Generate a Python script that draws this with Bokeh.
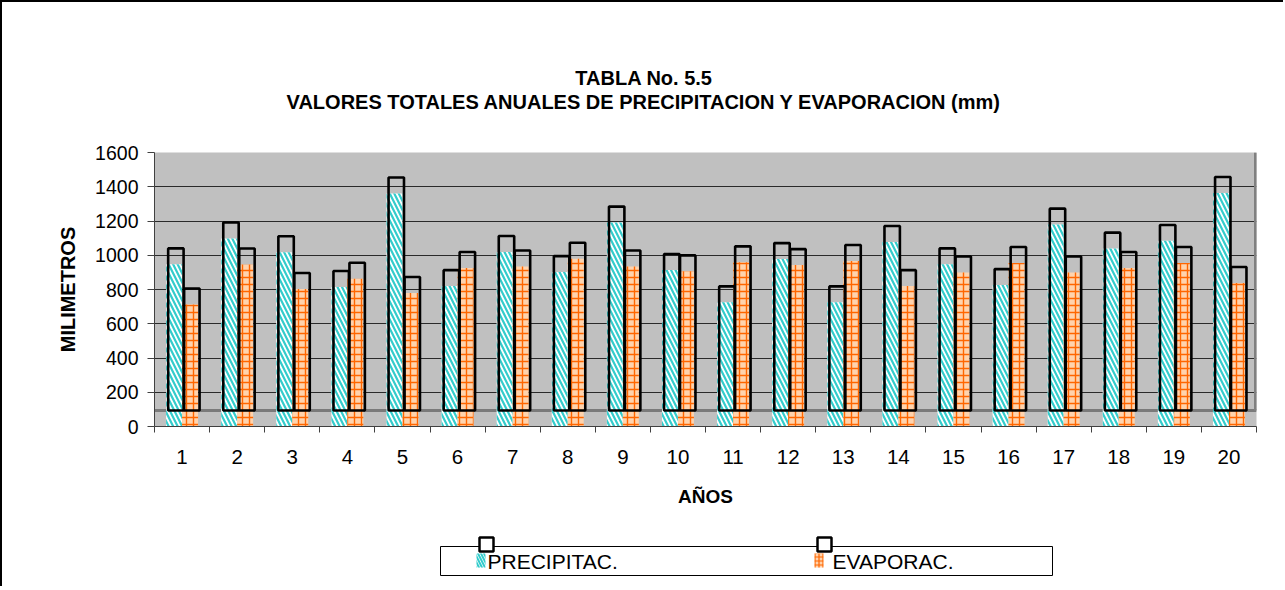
import numpy as np
from bokeh.plotting import figure
from bokeh.models import FixedTicker, Range1d, Span
from bokeh.layouts import column
from bokeh.embed import file_html
from bokeh.resources import INLINE
from bokeh.core.properties import value

# ---------------- data ----------------
years = ["1", "2", "3", "4", "5", "6", "7", "8", "9", "10",
         "11", "12", "13", "14", "15", "16", "17", "18", "19", "20"]
precipitacion = [947, 1098, 1018, 815, 1361, 820, 1019, 902, 1191, 914,
                 725, 978, 725, 1078, 947, 826, 1179, 1039, 1084, 1364]
evaporacion = [713, 946, 803, 863, 780, 926, 935, 980, 935, 906,
               959, 943, 967, 820, 900, 955, 900, 926, 955, 838]
y_ticks = [0, 200, 400, 600, 800, 1000, 1200, 1400, 1600]
series_names = ["PRECIPITAC.", "EVAPORAC."]
title_lines = ["TABLA No. 5.5",
               "VALORES TOTALES ANUALES DE PRECIPITACION Y EVAPORACION (mm)"]
x_title = "AÑOS"
y_title = "MILIMETROS"

# ---------------- style ----------------
FONT = "Liberation Sans"
DEPTH = 93          # pseudo-3D depth offset of the column outlines (mm)
BAR_W = 0.29
OFF = 0.145
DX = 0.033
CYAN = "#33CCCC"
ORANGE = "#FF6600"
PEACH = "#FFD3AD"
AXIS_C = "#404040"

W = 1283
FL, FR = 154, 1256          # frame left / right on the page (px)
TOP_H, MAIN_H, LEG_H = 140, 386, 60

x = np.arange(1, len(years) + 1)
bounds = np.arange(0.5, len(years) + 1, 1.0)
prec = np.array(precipitacion, dtype=float)
evap = np.array(evaporacion, dtype=float)

# ---------------- title strip ----------------
t = figure(width=W, height=TOP_H, x_range=Range1d(FL, FR), y_range=Range1d(0, TOP_H),
           output_backend="svg", toolbar_location=None,
           x_axis_location=None, y_axis_location=None,
           min_border=0, min_border_top=0, min_border_bottom=0)
t.grid.visible = False
t.outline_line_color = None
t.background_fill_color = None
t.border_fill_color = None
t.text(x=[643.5, 643.5], y=[TOP_H - 77, TOP_H - 101], text=title_lines,
       text_font=value(FONT), text_font_size="20px", text_font_style="bold",
       text_color="black", text_align="center", text_baseline="middle")

# ---------------- main chart ----------------
p = figure(width=W, height=MAIN_H,
           x_range=Range1d(bounds[0], bounds[-1]),
           y_range=Range1d(y_ticks[0], y_ticks[-1]),
           output_backend="svg", toolbar_location=None,
           min_border_left=FL, min_border_right=W - FR,
           min_border_top=12, min_border_bottom=MAIN_H - 12 - 274)
p.background_fill_color = "#C0C0C0"
p.border_fill_color = None
p.outline_line_color = None

p.xgrid.visible = False
p.ygrid.ticker = FixedTicker(ticks=y_ticks)
p.ygrid.grid_line_color = "#2a2a2a"
p.ygrid.grid_line_width = 1

p.yaxis.ticker = FixedTicker(ticks=y_ticks)
p.yaxis.major_tick_out = 7
p.yaxis.major_tick_in = 0
p.yaxis.minor_tick_line_color = None
p.yaxis.major_tick_line_color = AXIS_C
p.yaxis.axis_line_color = AXIS_C
p.yaxis.major_label_text_font = FONT
p.yaxis.major_label_text_font_size = "19.5px"
p.yaxis.major_label_text_color = "black"
p.yaxis.major_label_standoff = 9
p.yaxis.axis_label = y_title
p.yaxis.axis_label_text_font = FONT
p.yaxis.axis_label_text_font_size = "20px"
p.yaxis.axis_label_text_font_style = "bold"
p.yaxis.axis_label_text_color = "black"
p.yaxis.axis_label_standoff = 13

p.xaxis.ticker = FixedTicker(ticks=list(x), minor_ticks=list(bounds))
p.xaxis.major_label_overrides = {int(i): lab for i, lab in zip(x, years)}
p.xaxis.major_tick_out = 6
p.xaxis.major_tick_in = 0
p.xaxis.major_tick_line_color = None
p.xaxis.minor_tick_out = 6
p.xaxis.minor_tick_in = 0
p.xaxis.minor_tick_line_color = AXIS_C
p.xaxis.axis_line_color = AXIS_C
p.xaxis.major_label_text_font = FONT
p.xaxis.major_label_text_font_size = "20.5px"
p.xaxis.major_label_text_color = "black"
p.xaxis.major_label_standoff = 17
p.xaxis.axis_label = x_title
p.xaxis.axis_label_text_font = FONT
p.xaxis.axis_label_text_font_size = "19px"
p.xaxis.axis_label_text_font_style = "bold"
p.xaxis.axis_label_text_color = "black"
p.xaxis.axis_label_standoff = 19

p.add_layout(Span(location=DEPTH, dimension="width", line_color="#7a7a7a",
                  line_width=3, level="underlay"))
p.segment(x0=[bounds[-1]], y0=[DEPTH], x1=[bounds[-1]], y1=[y_ticks[-1]],
          line_color="#808080", line_width=5)

p.vbar(x=x - OFF, bottom=0, top=prec, width=BAR_W,
       fill_color="white", hatch_pattern="left_diagonal_line",
       hatch_color=CYAN, hatch_scale=9, hatch_weight=2.2, line_color=None)
p.vbar(x=x + OFF, bottom=0, top=evap, width=BAR_W,
       fill_color=PEACH, hatch_pattern="cross",
       hatch_color=ORANGE, hatch_scale=7, hatch_weight=1.4, line_color=None)

p.vbar(x=x - OFF + DX, bottom=DEPTH, top=prec + DEPTH, width=BAR_W - 0.01,
       fill_color=None, line_color="black", line_width=2.6)
p.vbar(x=x + OFF + DX, bottom=DEPTH, top=evap + DEPTH, width=BAR_W - 0.01,
       fill_color=None, line_color="black", line_width=2.6)

# ---------------- legend strip ----------------
q = figure(width=W, height=LEG_H, x_range=Range1d(FL, FR), y_range=Range1d(0, LEG_H),
           output_backend="svg", toolbar_location=None,
           x_axis_location=None, y_axis_location=None,
           min_border=0, min_border_top=0, min_border_bottom=0)
q.grid.visible = False
q.outline_line_color = None
q.background_fill_color = None
q.border_fill_color = None

q.quad(left=[440], right=[1052], bottom=[LEG_H - 49], top=[LEG_H - 20],
       fill_color="white", line_color="black", line_width=1)
sw_x = [476, 814]
txt_x = [487, 832]
q.quad(left=[sw_x[0]], right=[sw_x[0] + 9], bottom=[LEG_H - 41], top=[LEG_H - 27],
       fill_color="white", hatch_pattern="left_diagonal_line",
       hatch_color=CYAN, hatch_scale=6, hatch_weight=2, line_color=None)
q.quad(left=[sw_x[1]], right=[sw_x[1] + 9], bottom=[LEG_H - 41], top=[LEG_H - 27],
       fill_color=PEACH, hatch_pattern="cross",
       hatch_color=ORANGE, hatch_scale=4, hatch_weight=1.2, line_color=None)
q.quad(left=[s + 3 for s in sw_x], right=[s + 17 for s in sw_x],
       bottom=[LEG_H - 25] * 2, top=[LEG_H - 11] * 2,
       fill_color="white", line_color="black", line_width=2.5)
q.text(x=txt_x, y=[LEG_H - 35] * 2, text=series_names,
       text_font=value(FONT), text_font_size="21px", text_color="black",
       text_baseline="middle", text_align="left")

layout = column(t, p, q, spacing=0,
                styles={"box-shadow": "inset 2px 2px 0 0 black",
                        "background-color": "white"})
open("out.html", "w").write(file_html(layout, INLINE))
